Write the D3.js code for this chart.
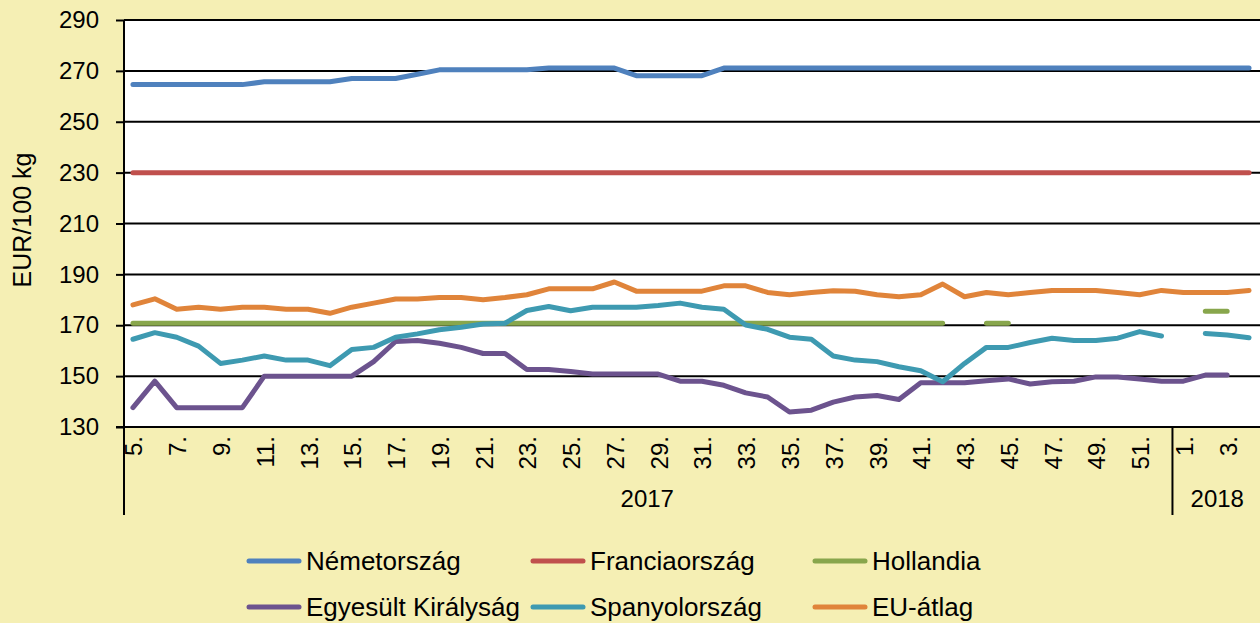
<!DOCTYPE html>
<html>
<head>
<meta charset="utf-8">
<script src="https://cdn.jsdelivr.net/npm/d3@7"></script>
<style>
  html, body { margin: 0; padding: 0; background: #F5EFB4; }
  svg { display: block; font-family: "Liberation Sans", Arial, sans-serif; }
</style>
</head>
<body>
<svg id="chart" width="1260" height="623"></svg>
<script>
// ---- DATA ----
const weeks2017 = d3.range(5, 53).map(w => w + ".");
const weeks2018 = ["1.", "2.", "3.", "4."];
const categories = weeks2017.concat(weeks2018);
const yearGroups = [
  { label: "2017", count: 48 },
  { label: "2018", count: 4 }
];
const yTicks = [130, 150, 170, 190, 210, 230, 250, 270, 290];

const nemetorszag = [
  264.6, 264.6, 264.6, 264.6, 264.6, 264.6, 265.7, 265.7, 265.7, 265.7,
  267.0, 267.0, 267.0, 268.7, 270.4, 270.4, 270.4, 270.4, 270.4, 271.1,
  271.1, 271.1, 271.1, 268.1, 268.1, 268.1, 268.1, 271.1, 271.1, 271.1,
  271.1, 271.1, 271.1, 271.1, 271.1, 271.1, 271.1, 271.1, 271.1, 271.1,
  271.1, 271.1, 271.1, 271.1, 271.1, 271.1, 271.1, 271.1, 271.1, 271.1,
  271.1, 271.1
];
const franciaorszag = [
  230, 230, 230, 230, 230, 230, 230, 230, 230, 230,
  230, 230, 230, 230, 230, 230, 230, 230, 230, 230,
  230, 230, 230, 230, 230, 230, 230, 230, 230, 230,
  230, 230, 230, 230, 230, 230, 230, 230, 230, 230,
  230, 230, 230, 230, 230, 230, 230, 230, 230, 230,
  230, 230
];
const hollandia = [
  170.8, 170.8, 170.8, 170.8, 170.8, 170.8, 170.8, 170.8, 170.8, 170.8,
  170.8, 170.8, 170.8, 170.8, 170.8, 170.8, 170.8, 170.8, 170.8, 170.8,
  170.8, 170.8, 170.8, 170.8, 170.8, 170.8, 170.8, 170.8, 170.8, 170.8,
  170.8, 170.8, 170.8, 170.8, 170.8, 170.8, 170.8, 170.8, null, 170.8,
  170.8, null, null, null, null, null, null, null, null, 175.5,
  175.5, null
];
const egyesultKiralysag = [
  137.6, 148.0, 137.6, 137.6, 137.6, 137.6, 150.0, 150.0, 150.0, 150.0,
  150.0, 155.7, 163.6, 164.0, 162.9, 161.3, 158.9, 158.9, 152.6, 152.6,
  151.8, 150.8, 150.8, 150.8, 150.8, 148.0, 148.0, 146.4, 143.4, 141.8,
  135.9, 136.6, 139.8, 141.8, 142.4, 140.8, 147.4, 147.4, 147.4, 148.2,
  148.9, 146.9, 147.8, 148.0, 149.7, 149.7, 148.9, 148.0, 148.0, 150.4,
  150.4, null
];
const spanyolorszag = [
  164.5, 167.1, 165.3, 161.8, 155.0, 156.3, 157.9, 156.3, 156.3, 154.1,
  160.5, 161.3, 165.3, 166.6, 168.2, 169.2, 170.5, 170.8, 175.8, 177.4,
  175.7, 177.1, 177.1, 177.1, 177.8, 178.7, 177.1, 176.3, 170.1, 168.4,
  165.3, 164.5, 157.9, 156.3, 155.7, 153.7, 152.1, 147.8, 155.0, 161.3,
  161.3, 163.2, 164.9, 164.0, 164.0, 164.9, 167.5, 165.8, null, 166.8,
  166.2, 165.1
];
const euAtlag = [
  178.0, 180.4, 176.3, 177.1, 176.3, 177.1, 177.1, 176.3, 176.3, 174.7,
  177.1, 178.7, 180.3, 180.3, 180.9, 180.9, 180.0, 180.9, 182.0, 184.3,
  184.3, 184.3, 187.0, 183.4, 183.4, 183.4, 183.4, 185.5, 185.5, 182.9,
  182.0, 182.9, 183.6, 183.4, 182.0, 181.2, 182.0, 186.2, 181.2, 182.9,
  182.0, 182.9, 183.7, 183.7, 183.7, 182.9, 182.0, 183.7, 182.9, 182.9,
  182.9, 183.7
];

const seriesNames = ["Németország", "Franciaország", "Hollandia", "Egyesült Királyság", "Spanyolország", "EU-átlag"];
const seriesValues = [nemetorszag, franciaorszag, hollandia, egyesultKiralysag, spanyolorszag, euAtlag];
const seriesColors = ["#4F81BD", "#C0504D", "#88A64C", "#6C538E", "#3E9AB1", "#E0843A"];

// ---- LAYOUT ----
const svg = d3.select("#chart");
const plotLeft = 122, plotRight = 1260, plotTop = 20, plotBottom = 427;

const x = d3.scaleBand().domain(d3.range(categories.length)).range([plotLeft, plotRight]).paddingInner(0).paddingOuter(0);
const cx = i => x(i) + x.bandwidth() / 2;
const y = d3.scaleLinear().domain([130, 290]).range([plotBottom, plotTop]);

// plot background
svg.append("rect").attr("x", plotLeft + 2).attr("y", plotTop).attr("width", plotRight - plotLeft).attr("height", plotBottom - plotTop).attr("fill", "#FFFFFF");

// gridlines
svg.append("g").selectAll("line").data(yTicks).join("line")
  .attr("x1", 124).attr("x2", plotRight)
  .attr("y1", d => y(d)).attr("y2", d => y(d))
  .attr("stroke", "#000").attr("stroke-width", 2);

// y axis
const yAxis = svg.append("g").attr("transform", "translate(124,0)")
  .call(d3.axisLeft(y).tickValues(yTicks).tickSize(8).tickPadding(17).tickFormat(d3.format("d")));
yAxis.select(".domain").attr("stroke", "#000").attr("stroke-width", 2).attr("d", `M0,${plotTop}V${plotBottom}`);
yAxis.selectAll(".tick line").attr("stroke", "#000").attr("stroke-width", 2);
yAxis.selectAll(".tick text").attr("fill", "#000").style("font-size", "24px").style("font-family", "'Liberation Sans', Arial, sans-serif");

// y title
svg.append("text").attr("transform", "translate(22,220) rotate(-90)")
  .attr("text-anchor", "middle").attr("dominant-baseline", "central")
  .style("font-size", "25px").attr("fill", "#000").text("EUR/100 kg");

// x tick labels (every other)
svg.append("g").selectAll("text").data(categories.map((c, i) => ({ c, i })).filter(d => d.i % 2 === 0)).join("text")
  .attr("transform", d => `translate(${cx(d.i) + 1},436) rotate(-90)`)
  .attr("text-anchor", "end").attr("dominant-baseline", "central")
  .style("font-size", "24px").attr("fill", "#000").text(d => d.c);

// year groups
let start = 0;
const yg = svg.append("g");
yearGroups.forEach(g => {
  const x0 = x(start);
  const x1 = start + g.count < categories.length ? x(start + g.count) : plotRight;
  yg.append("line").attr("x1", start === 0 ? 124 : x0).attr("x2", start === 0 ? 124 : x0)
    .attr("y1", plotBottom).attr("y2", 515).attr("stroke", "#000").attr("stroke-width", 2);
  yg.append("text").attr("x", (x0 + x1) / 2 + (start === 0 ? 0 : 1)).attr("y", 498)
    .attr("text-anchor", "middle").attr("dominant-baseline", "central")
    .style("font-size", "24px").attr("fill", "#000").text(g.label);
  start += g.count;
});

// bottom axis line
svg.append("line").attr("x1", 116).attr("x2", plotRight).attr("y1", plotBottom).attr("y2", plotBottom)
  .attr("stroke", "#000").attr("stroke-width", 2);

// series lines
const line = d3.line().defined(d => d.v != null).x(d => cx(d.i)).y(d => y(d.v));
seriesValues.forEach((vals, k) => {
  svg.append("path")
    .datum(vals.map((v, i) => ({ v, i })))
    .attr("d", line)
    .attr("fill", "none")
    .attr("stroke", seriesColors[k])
    .attr("stroke-width", 5)
    .attr("stroke-linejoin", "round")
    .attr("stroke-linecap", "round");
});

// legend
const legCols = [247, 531, 813];
const legRows = [561, 607];
const leg = svg.append("g");
seriesNames.forEach((name, k) => {
  const lx = legCols[k % 3], ly = legRows[Math.floor(k / 3)];
  leg.append("line").attr("x1", lx + 2).attr("x2", lx + 52).attr("y1", ly).attr("y2", ly)
    .attr("stroke", seriesColors[k]).attr("stroke-width", 5).attr("stroke-linecap", "round");
  leg.append("text").attr("x", lx + 59).attr("y", ly).attr("dominant-baseline", "central")
    .style("font-size", "26px").attr("fill", "#000").text(name);
});
</script>
</body>
</html>
